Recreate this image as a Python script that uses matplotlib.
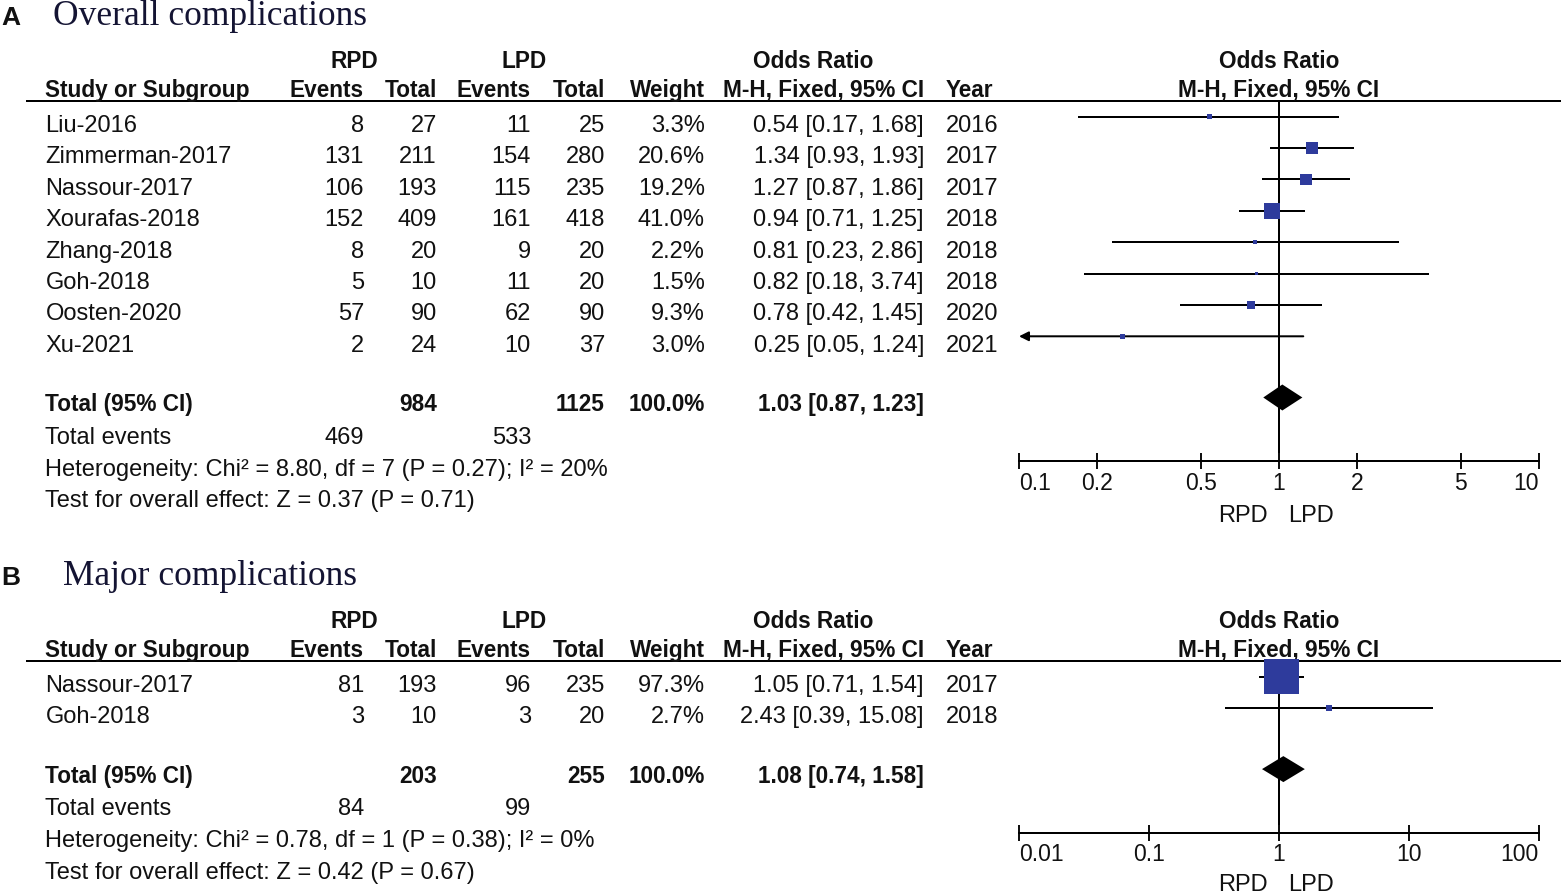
import numpy as np
import matplotlib
matplotlib.use("Agg")
import matplotlib.pyplot as plt
from matplotlib.ticker import NullLocator

plt.rcParams["font.family"] = ["Liberation Sans", "DejaVu Sans"]

# ---- painel A: complicações gerais
estudos_a = ["Liu-2016", "Zimmerman-2017", "Nassour-2017", "Xourafas-2018",
             "Zhang-2018", "Goh-2018", "Oosten-2020", "Xu-2021"]
ev_rpd_a = [8, 131, 106, 152, 8, 5, 57, 2]
tot_rpd_a = [27, 211, 193, 409, 20, 10, 90, 24]
ev_lpd_a = [11, 154, 115, 161, 9, 11, 62, 10]
tot_lpd_a = [25, 280, 235, 418, 20, 20, 90, 37]
peso_a = [3.3, 20.6, 19.2, 41.0, 2.2, 1.5, 9.3, 3.0]
or_a = [0.54, 1.34, 1.27, 0.94, 0.81, 0.82, 0.78, 0.25]
lo_a = [0.17, 0.93, 0.87, 0.71, 0.23, 0.18, 0.42, 0.05]
hi_a = [1.68, 1.93, 1.86, 1.25, 2.86, 3.74, 1.45, 1.24]
ano_a = [2016, 2017, 2017, 2018, 2018, 2018, 2020, 2021]
pooled_a = [1.03, 0.87, 1.23]
totais_a = [984, 1125]
eventos_a = [469, 533]
het_a = [8.80, 7, 0.27, 20]      # chi2, df, P, I2
teste_a = [0.37, 0.71]           # Z, P
ticks_a = [0.1, 0.2, 0.5, 1, 2, 5, 10]

# ---- painel B: complicações maiores
estudos_b = ["Nassour-2017", "Goh-2018"]
ev_rpd_b = [81, 3]
tot_rpd_b = [193, 10]
ev_lpd_b = [96, 3]
tot_lpd_b = [235, 20]
peso_b = [97.3, 2.7]
or_b = [1.05, 2.43]
lo_b = [0.71, 0.39]
hi_b = [1.54, 15.08]
ano_b = [2017, 2018]
pooled_b = [1.08, 0.74, 1.58]
totais_b = [203, 255]
eventos_b = [84, 99]
het_b = [0.78, 1, 0.38, 0]
teste_b = [0.42, 0.67]
ticks_b = [0.01, 0.1, 1, 10, 100]

W, H = 1561, 894
AZUL = "#2e3b9c"
PRETO = "#111111"
TXT = 17
NEG = 16.3
ROW_H = 31.4
X0, X1 = 1019, 1539
NULO = 1279

fig = plt.figure(figsize=(W / 100, H / 100), dpi=100)
ax = fig.add_axes([0, 0, 1, 1])
ax.set_xlim(0, W)
ax.set_ylim(H, 0)
ax.axis("off")


def t(x, y, s, ha="left", bold=False, **kw):
    ax.text(x, y, s, ha=ha, va="baseline", color=PRETO,
            fontsize=NEG if bold else TXT,
            fontweight="bold" if bold else "normal", **kw)


def painel(top, letra, titulo, titulo_x, estudos, ev_r, tot_r, ev_l, tot_l, peso,
           odds, lo, hi, anos, pooled, totais, eventos, het, teste, ticks, k):
    # titulo
    ax.text(1, top + 25, letra, fontsize=19, fontweight="bold", color=PRETO, va="baseline")
    ax.text(titulo_x, top + 25, titulo, family="Liberation Serif", fontsize=25.5,
            color="#141433", va="baseline")

    # cabeçalho
    t(354, top + 67.5, "RPD", ha="center", bold=True)
    t(524, top + 67.5, "LPD", ha="center", bold=True)
    t(813, top + 67.5, "Odds Ratio", ha="center", bold=True)
    yh = top + 97
    t(45.5, yh, "Study or Subgroup", bold=True)
    t(364, yh, "Events", ha="right", bold=True)
    t(437, yh, "Total", ha="right", bold=True)
    t(531, yh, "Events", ha="right", bold=True)
    t(605, yh, "Total", ha="right", bold=True)
    t(705, yh, "Weight", ha="right", bold=True)
    t(924, yh, "M-H, Fixed, 95% CI", ha="right", bold=True)
    t(946, yh, "Year", bold=True)
    ax.hlines(top + 101, 26, W, color="k", lw=1.44)

    # linhas dos estudos
    n = len(estudos)
    bases = [top + 132 + i * ROW_H for i in range(n)]
    for i, y in enumerate(bases):
        t(45.5, y, estudos[i])
        t(364, y, str(ev_r[i]), ha="right")
        t(437, y, str(tot_r[i]), ha="right")
        t(531, y, str(ev_l[i]), ha="right")
        t(605, y, str(tot_l[i]), ha="right")
        t(705, y, f"{peso[i]:.1f}%", ha="right")
        t(924, y, f"{odds[i]:.2f} [{lo[i]:.2f}, {hi[i]:.2f}]", ha="right")
        t(946, y, str(anos[i]))

    y_tot = bases[-1] + 59.7
    t(45.5, y_tot, "Total (95% CI)", bold=True)
    t(437, y_tot, str(totais[0]), ha="right", bold=True)
    t(605, y_tot, str(totais[1]), ha="right", bold=True)
    t(705, y_tot, "100.0%", ha="right", bold=True)
    t(924, y_tot, f"{pooled[0]:.2f} [{pooled[1]:.2f}, {pooled[2]:.2f}]", ha="right", bold=True)
    t(45.5, y_tot + 32.3, "Total events")
    t(364, y_tot + 32.3, str(eventos[0]), ha="right")
    t(531, y_tot + 32.3, str(eventos[1]), ha="right")
    t(45.5, y_tot + 64.3,
      f"Heterogeneity: Chi\u00b2 = {het[0]:.2f}, df = {het[1]} (P = {het[2]:.2f}); I\u00b2 = {het[3]}%")
    t(45.5, y_tot + 96, f"Test for overall effect: Z = {teste[0]:.2f} (P = {teste[1]:.2f})")

    # forest plot
    y_eixo = y_tot + 96 - 46.5
    af = fig.add_axes([X0 / W, 0, (X1 - X0) / W, 1])
    af.set_xscale("log")
    af.set_xlim(ticks[0], ticks[-1])
    af.set_ylim(H, 0)
    af.patch.set_alpha(0)
    for s in ["top", "left", "right"]:
        af.spines[s].set_visible(False)
    af.spines["bottom"].set_position(("data", y_eixo))
    af.spines["bottom"].set_linewidth(1.44)
    af.set_yticks([])
    af.set_xticks(ticks, [f"{v:g}" for v in ticks])
    af.xaxis.set_minor_locator(NullLocator())
    af.tick_params(axis="x", direction="inout", length=11.5, width=1.44,
                   labelsize=16.5, pad=2, colors=PRETO)
    labs = af.get_xticklabels()
    labs[0].set_ha("left")
    labs[-1].set_ha("right")

    af.text(1, top + 67.5, "Odds Ratio", ha="center", va="baseline",
            fontsize=NEG, fontweight="bold", color=PRETO)
    af.text(1, top + 97, "M-H, Fixed, 95% CI", ha="center", va="baseline",
            fontsize=NEG, fontweight="bold", color=PRETO)

    af.plot([1, 1], [top + 101, y_eixo], color="k", lw=1.44, zorder=1)

    ys = [b - 15.5 for b in bases]
    for y, l, h in zip(ys, lo, hi):
        if l < ticks[0]:
            af.annotate("", xy=(ticks[0], y), xytext=(h, y),
                        arrowprops=dict(arrowstyle="-|>", color="k", lw=1.44,
                                        mutation_scale=14, shrinkA=0, shrinkB=0))
        else:
            af.plot([l, h], [y, y], color="k", lw=1.44, zorder=2)
    af.scatter(odds, ys, s=np.array(peso) * k, marker="s", color=AZUL,
               linewidths=0, zorder=3)

    yd = y_tot - 14
    af.fill([pooled[1], pooled[0], pooled[2], pooled[0]], [yd, yd - 13, yd, yd + 13],
            color="k", lw=0, zorder=4)

    y_lab = min(y_eixo + 61, H - 3)
    t(NULO - 11, y_lab, "RPD", ha="right")
    t(NULO + 9, y_lab, "LPD")


painel(0, "A", "Overall complications", 53, estudos_a, ev_rpd_a, tot_rpd_a, ev_lpd_a,
       tot_lpd_a, peso_a, or_a, lo_a, hi_a, ano_a, pooled_a, totais_a, eventos_a,
       het_a, teste_a, ticks_a, 3.37)
painel(560, "B", "Major complications", 63, estudos_b, ev_rpd_b, tot_rpd_b, ev_lpd_b,
       tot_lpd_b, peso_b, or_b, lo_b, hi_b, ano_b, pooled_b, totais_b, eventos_b,
       het_b, teste_b, ticks_b, 6.53)

fig.savefig("out.png", dpi=100, facecolor="white")
